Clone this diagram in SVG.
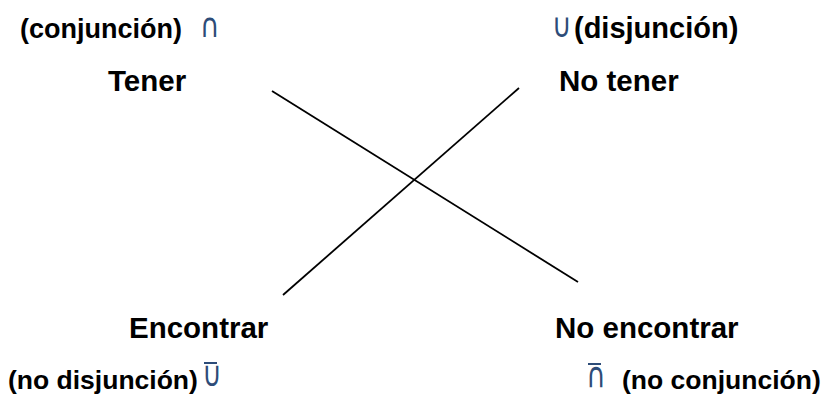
<svg xmlns="http://www.w3.org/2000/svg" width="825" height="398" viewBox="0 0 825 398">
<style>
.t{font-family:"Liberation Sans",Arial,sans-serif;font-weight:bold;fill:#000}
.p{font-size:27px}
.m{font-size:29.5px}
.s{font-family:"DejaVu Sans",sans-serif;font-size:27px;fill:#2d4c78}
.bar{stroke:#2d4c78;stroke-width:2}
.c{stroke:#000;stroke-width:1.8;fill:none}
</style>
<rect width="825" height="398" fill="#fff"/>
<g id="connectors">
<line class="c" x1="272" y1="91" x2="578" y2="282"/>
<line class="c" x1="283" y1="295" x2="519" y2="88"/>
</g>
<g id="tener">
<text class="t p" x="20" y="38">(conjunción)</text>
<text class="s" transform="translate(200,37) scale(1,1.25)">∩</text>
<text class="t m" x="108" y="91">Tener</text>
</g>
<g id="no-tener">
<text class="s" transform="translate(552,37) scale(1,1.25)">∪</text>
<text class="t" x="574" y="38" style="font-size:29px">(disjunción)</text>
<text class="t m" x="559" y="91">No tener</text>
</g>
<g id="encontrar">
<text class="t m" x="129" y="338">Encontrar</text>
<text class="t" x="8" y="389" style="font-size:26.5px">(no disjunción)</text>
<line class="bar" x1="204" y1="363" x2="217" y2="363"/>
<text class="s" transform="translate(202,386) scale(1,1.3)">∪</text>
</g>
<g id="no-encontrar">
<text class="t m" x="555" y="338">No encontrar</text>
<line class="bar" x1="588" y1="364" x2="601" y2="364"/>
<text class="s" transform="translate(586,387) scale(1,1.3)">∩</text>
<text class="t" x="622" y="389" style="font-size:26.5px">(no conjunción)</text>
</g>
</svg>
